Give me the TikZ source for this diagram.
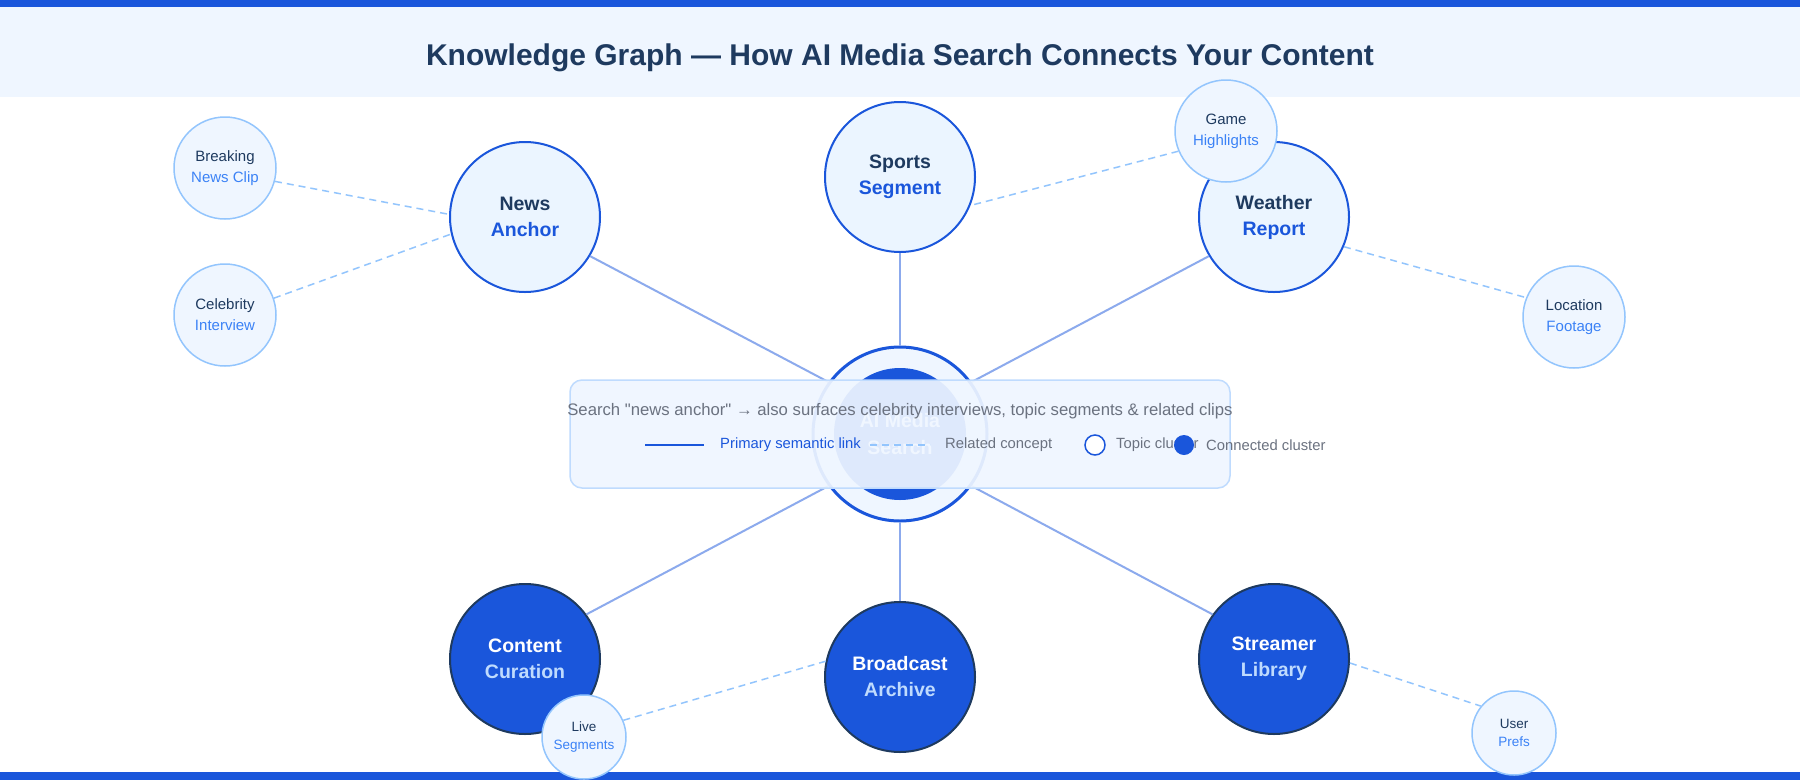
\documentclass[tikz,border=0pt]{standalone}
\usepackage{fontspec}
\setmainfont{Liberation Sans}[Ligatures=TeXOff]

\definecolor{brandblue}{HTML}{1A56DB}
\definecolor{navy}{HTML}{1E3A5F}
\definecolor{paleblue}{HTML}{EFF6FF}
\definecolor{topicfill}{HTML}{EBF5FF}
\definecolor{satline}{HTML}{93C5FD}
\definecolor{sattext}{HTML}{3B82F6}
\definecolor{softblue}{HTML}{BFDBFE}
\definecolor{greytext}{HTML}{6B7280}

\tikzset{
  topic/.style={circle, draw=brandblue, line width=2pt, fill=topicfill, minimum size=150pt,
    inner sep=0pt, align=center, text=navy, font=\fontsize{19.5}{26}\selectfont\bfseries},
  cluster/.style={topic, draw=navy, fill=brandblue, text=white},
  satellite/.style={circle, draw=satline, line width=1.5pt, fill=paleblue, minimum size=102pt,
    inner sep=0pt, align=center, text=navy, font=\fontsize{15}{21}\selectfont},
  smallsat/.style={satellite, minimum size=84pt, font=\fontsize{13.5}{18.5}\selectfont},
  primary/.style={draw=brandblue!50, line width=2pt},
  related/.style={draw=satline, line width=1.5pt, dash pattern=on 7pt off 5pt},
  legendtext/.style={anchor=west, inner sep=0pt, text=greytext, font=\fontsize{14.8}{17}\selectfont},
}

\begin{document}
\begin{tikzpicture}[x=1pt, y=-1pt]
\useasboundingbox (0,0) rectangle (1800,780);

% header and footer
\fill[white] (0,0) rectangle (1800,780);
\fill[paleblue] (0,0) rectangle (1800,97);
\fill[brandblue] (0,0) rectangle (1800,7);
\fill[brandblue] (0,772) rectangle (1800,780);
\node[text=navy, font=\fontsize{30}{34}\selectfont\bfseries] (title) at (900,58)
  {Knowledge Graph — How AI Media Search Connects Your Content};

% topic clusters
\node[topic] (news) at (525,217) {News\\\textcolor{brandblue}{Anchor}};
\node[topic] (sports) at (900,177) {Sports\\\textcolor{brandblue}{Segment}};
\node[topic] (weather) at (1274,217) {Weather\\\textcolor{brandblue}{Report}};
\node[cluster] (curation) at (525,659) {Content\\\textcolor{softblue}{Curation}};
\node[cluster] (archive) at (900,677) {Broadcast\\\textcolor{softblue}{Archive}};
\node[cluster] (streamer) at (1274,659) {Streamer\\\textcolor{softblue}{Library}};

% hub
\node[circle, draw=brandblue, line width=3pt, fill=paleblue, minimum size=174pt] (hub) at (900,434) {};
\node[circle, fill=brandblue, minimum size=132pt, inner sep=0pt, align=center, text=white,
  font=\fontsize{19.5}{27}\selectfont\bfseries] (hubcore) at (900,434) {AI Media\\Search};

% related concepts
\node[satellite] (breaking) at (225,168) {Breaking\\\textcolor{sattext}{News Clip}};
\node[satellite] (celebrity) at (225,315) {Celebrity\\\textcolor{sattext}{Interview}};
\node[satellite] (game) at (1226,131) {Game\\\textcolor{sattext}{Highlights}};
\node[satellite] (location) at (1574,317) {Location\\\textcolor{sattext}{Footage}};
\node[smallsat] (live) at (584,737) {Live\\\textcolor{sattext}{Segments}};
\node[smallsat] (prefs) at (1514,733) {User\\\textcolor{sattext}{Prefs}};

% primary links
\draw[primary] (hub.144) -- (news.-31);
\draw[primary] (hub.north) -- (sports);
\draw[primary] (hub.36) -- (weather.211);
\draw[primary] (hub.216) -- (curation.36);
\draw[primary] (hub.south) -- (archive);
\draw[primary] (hub.-36) -- (streamer.144);

% related links
\draw[related] (breaking.-15) -- (news.178);
\draw[related] (celebrity.19) -- (news.193);
\draw[related] (game.203) -- (sports.-22);
\draw[related] (weather.-23) -- (location.158);
\draw[related] (live.23) -- (archive.168);
\draw[related] (streamer.-3) -- (prefs.141);

% legend
\node[draw=softblue, line width=1.5pt, fill=paleblue, fill opacity=0.92, rounded corners=12pt,
  minimum width=660pt, minimum height=108pt] (legend) at (900,434) {};
\node[text=greytext, font=\fontsize{16.7}{19}\selectfont] (hint) at (900,411)
  {Search "news anchor" → also surfaces celebrity interviews, topic segments \& related clips};
\coordinate (solidA) at (645,445);
\coordinate (solidB) at (704,445);
\draw[brandblue, line width=2pt] (solidA) -- (solidB);
\node[legendtext, text=brandblue] (primarylbl) at (720,445) {Primary semantic link};
\coordinate (dashA) at (870,445);
\coordinate (dashB) at (930,445);
\draw[related] (dashA) -- (dashB);
\node[legendtext] (relatedlbl) at (945,445) {Related concept};
\node[circle, draw=brandblue, line width=1.5pt, fill=white, minimum size=20pt] (topicdot) at (1095,445) {};
\node[legendtext] (topiclbl) at (1116,445) {Topic cluster};
\node[circle, fill=brandblue, minimum size=20pt] (clusterdot) at (1184,445) {};
\node[legendtext] (clusterlbl) at (1206,445) {Connected cluster};
\end{tikzpicture}
\end{document}
